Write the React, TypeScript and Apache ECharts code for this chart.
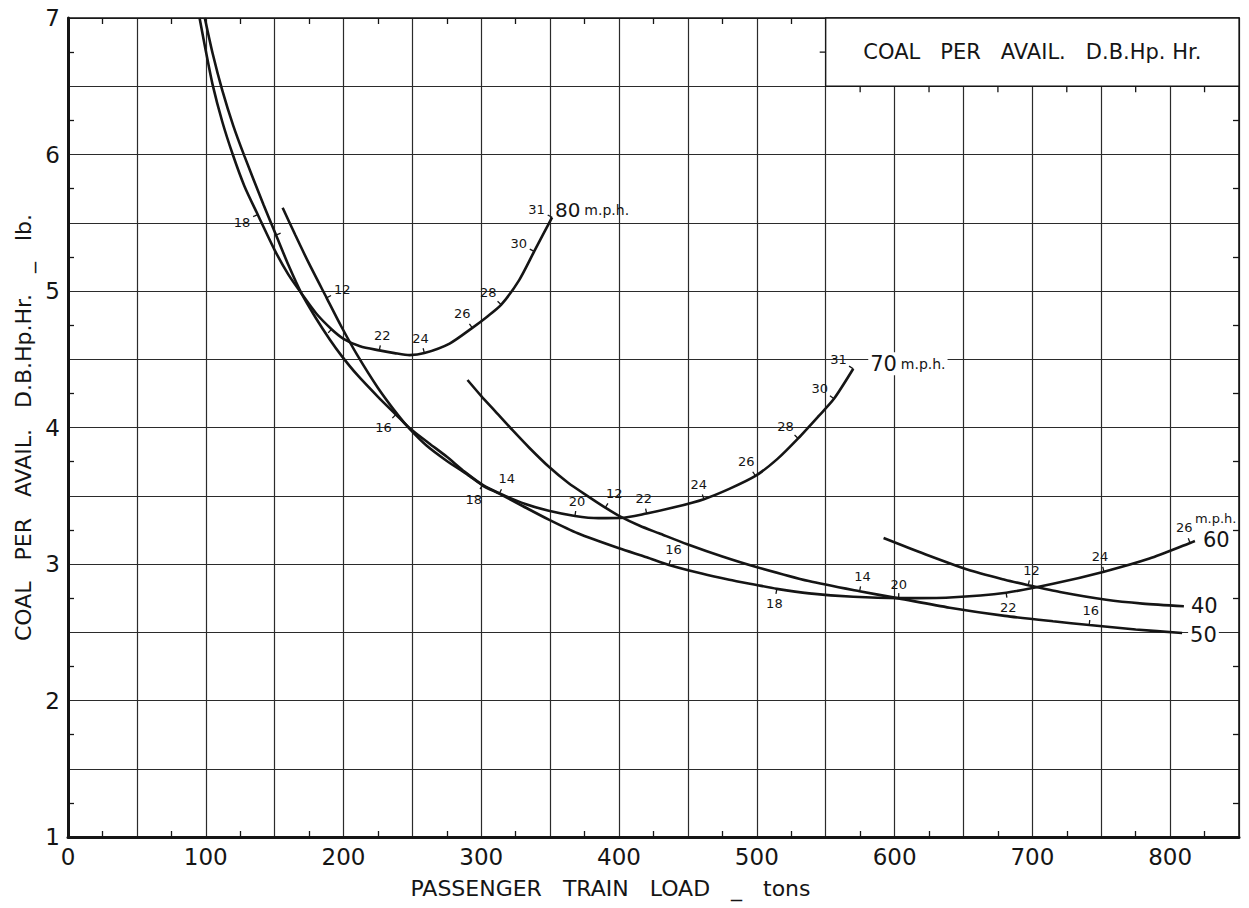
import React, { useEffect, useRef } from 'react';
import * as echarts from 'echarts';

const FONT = '"DejaVu Sans", "Liberation Sans", sans-serif';
const INK = '#151515';
const GRID = '#2b2b2b';

// Axis tick labels (grid lines run every 50 tons / 0.5 lb)
const xTickLabels = [0, 100, 200, 300, 400, 500, 600, 700, 800];
const yTickLabels = [1, 2, 3, 4, 5, 6, 7];

// Coal per available drawbar horsepower-hour (lb) against passenger train load (tons)
const speed80 = [
  [95.5, 7.0], [100, 6.76], [105, 6.51], [112, 6.24], [119.6, 6.0], [128, 5.77],
  [137.7, 5.56], [150, 5.3], [160, 5.12], [169.6, 4.98], [180.2, 4.835], [191.3, 4.72],
  [200, 4.65], [212, 4.595], [226, 4.565], [237, 4.545], [248, 4.53], [258.7, 4.545],
  [277, 4.615], [293.5, 4.73], [304, 4.81], [314.5, 4.9], [327.5, 5.08], [338.4, 5.29],
  [351.4, 5.54],
];
const speed70 = [
  [99.3, 7.0], [105, 6.74], [112, 6.47], [120, 6.21], [128, 5.99], [142, 5.63],
  [151, 5.41], [160, 5.19], [169.6, 4.98], [180, 4.8], [190, 4.645], [198.6, 4.525],
  [210, 4.385], [225, 4.225], [238, 4.095], [248, 3.995], [262, 3.885], [275, 3.785],
  [288, 3.675], [301, 3.58], [315, 3.51], [332, 3.44], [349, 3.39], [368, 3.352],
  [385, 3.336], [401, 3.337], [420, 3.37], [440, 3.415], [461.6, 3.475], [480, 3.55],
  [499, 3.645], [515, 3.77], [530, 3.92], [545, 4.085], [556, 4.21], [570, 4.43],
];
const speed60 = [
  [155.8, 5.61], [165, 5.41], [175, 5.2], [187.7, 4.95], [198.4, 4.74], [210, 4.53],
  [225, 4.29], [240, 4.085], [248, 3.99], [260, 3.87], [275, 3.755], [290, 3.655],
  [301, 3.575], [313, 3.515], [330, 3.425], [349, 3.325], [370, 3.225], [400, 3.115],
  [420, 3.05], [436.2, 2.993], [460, 2.93], [480, 2.885], [499, 2.848], [514.5, 2.818],
  [538, 2.785], [570, 2.76], [603, 2.75], [640, 2.755], [681, 2.79], [715, 2.855],
  [752, 2.944], [785, 3.04], [814.5, 3.154], [818, 3.168],
];
const speed50 = [
  [290, 4.348], [300, 4.23], [310, 4.12], [322.7, 3.98], [335, 3.85], [349.3, 3.71],
  [363, 3.595], [378.3, 3.49], [390, 3.413], [401.4, 3.345], [415, 3.28], [429, 3.225],
  [449.5, 3.145], [475, 3.055], [499, 2.98], [537.7, 2.875], [574.6, 2.8], [603, 2.748],
  [640, 2.68], [680, 2.62], [715, 2.58], [741.3, 2.553], [775, 2.52], [808.7, 2.495],
];
const speed40 = [
  [592, 3.19], [620, 3.08], [653.3, 2.958], [680, 2.885], [697, 2.845], [720, 2.795],
  [753.6, 2.738], [780, 2.71], [810, 2.69],
];

// Cut-off (%) marks along each speed curve: [load, cut-off]
const cutoff80 = [[137.7, 18], [191.3, 20], [226, 22], [258.7, 24], [293.5, 26], [314.5, 28], [338.4, 30], [351.4, 31]];
const cutoff70 = [[151, 14], [238, 16], [301, 18], [368, 20], [420, 22], [461.6, 24], [499, 26], [530, 28], [556, 30], [570, 31]];
const cutoff60 = [[187.7, 12], [313, 14], [436.2, 16], [514.5, 18], [603, 20], [681, 22], [752, 24], [814.5, 26]];
const cutoff50 = [[390, 12], [574.6, 14], [741.3, 16]];
const cutoff40 = [[697, 12]];

// Which side of the curve each cut-off mark sits on (+1 / -1 along the curve normal)
const side80 = [1, 1, -1, -1, -1, -1, -1, -1];
const side70 = [-1, 1, 1, -1, -1, -1, -1, -1, -1, -1];
const side60 = [-1, -1, -1, 1, -1, 1, -1, -1];
const side50 = [-1, -1, -1];
const side40 = [-1];

// Marks drawn without a figure
const unlabelled80 = [20];
const unlabelled70 = [14];

const NB = '\u00a0';
const gap = NB + NB + NB;
const titleText = ['COAL', 'PER', 'AVAIL.', 'D.B.Hp.' + NB + 'Hr.'].join(gap);
const xName = ['PASSENGER', 'TRAIN', 'LOAD', '_', 'tons'].join(gap);
const yName = ['COAL', 'PER', 'AVAIL.', 'D.B.Hp.Hr.', '_', 'lb.'].join(gap);
const titleBoxTicks = [575, 625, 675, 725, 775, 825];

function interp(curve: number[][], x: number): number {
  let i = 0;
  if (x >= curve[curve.length - 1][0]) i = curve.length - 2;
  else while (i < curve.length - 2 && curve[i + 1][0] < x) i++;
  const [x0, y0] = curve[i];
  const [x1, y1] = curve[i + 1];
  return y0 + ((y1 - y0) * (x - x0)) / (x1 - x0);
}

function cutoffSeries(curve: number[][], cutoffs: number[][], sides: number[], hidden: number[]) {
  const data = cutoffs.map(([load, c], i) => [load, interp(curve, load), c, sides[i], hidden.includes(c) ? 0 : 1]);
  return {
    type: 'custom',
    data,
    z: 5,
    silent: true,
    encode: { x: 0, y: 1 },
    renderItem: (_params: any, api: any) => {
      const load = api.value(0);
      const coal = api.value(1);
      const cut = api.value(2);
      const side = api.value(3);
      const show = api.value(4);
      const p = api.coord([load, coal]);
      const a = api.coord([load - 3, interp(curve, load - 3)]);
      const b = api.coord([load + 3, interp(curve, load + 3)]);
      let tx = b[0] - a[0];
      let ty = b[1] - a[1];
      const len = Math.hypot(tx, ty) || 1;
      tx /= len;
      ty /= len;
      const nx = -ty * side;
      const ny = tx * side;
      const L = 5;
      const children: any[] = [
        {
          type: 'line',
          shape: { x1: p[0], y1: p[1], x2: p[0] + nx * L, y2: p[1] + ny * L },
          style: { stroke: INK, lineWidth: 1.3 },
        },
      ];
      if (show) {
        const half = Math.abs(nx) * 8.5 + Math.abs(ny) * 6.5;
        const d = L + 2 + half;
        children.push({
          type: 'text',
          x: p[0] + nx * d,
          y: p[1] + ny * d,
          style: {
            text: String(cut),
            fill: INK,
            fontSize: 13,
            fontFamily: FONT,
            align: 'center',
            verticalAlign: 'middle',
          },
        });
      }
      return { type: 'group', children };
    },
  };
}

function curveSeries(name: string, data: number[][], endLabel: any, extra: any = {}) {
  return {
    type: 'line',
    name,
    data,
    showSymbol: false,
    symbol: 'none',
    smooth: 0.25,
    z: 4,
    silent: true,
    lineStyle: { color: INK, width: 2.6 },
    endLabel: { show: true, color: INK, fontFamily: FONT, ...endLabel },
    ...extra,
  };
}

export default function App() {
  const ref = useRef<HTMLDivElement>(null);

  useEffect(() => {
    if (!ref.current) return;
    const chart = echarts.init(ref.current, undefined, { renderer: 'svg' });

    const baseX = { type: 'value', min: 0, max: 850, interval: 50 };
    const baseY = { type: 'value', min: 1, max: 7, interval: 0.5 };
    const minorTick = { show: true, splitNumber: 2, length: 6, lineStyle: { color: INK, width: 1.3 } };

    chart.setOption({
      animation: false,
      backgroundColor: '#ffffff',
      textStyle: { fontFamily: FONT },
      grid: { left: 68, top: 18, right: 10, bottom: 71, containLabel: false },
      xAxis: [
        {
          ...baseX,
          position: 'bottom',
          axisLine: { show: true, onZero: false, lineStyle: { color: INK, width: 3 } },
          axisTick: { show: false, inside: true },
          minorTick,
          splitLine: { show: true, lineStyle: { color: GRID, width: 1.2 } },
          axisLabel: {
            formatter: (v: number) => (xTickLabels.includes(v) ? String(v) : ''),
            fontSize: 23,
            fontFamily: FONT,
            color: INK,
            margin: 8,
          },
          name: xName,
          nameLocation: 'middle',
          nameGap: 40,
          nameTextStyle: { fontSize: 22, fontFamily: FONT, color: INK, padding: [0, 86, 0, 0] },
        },
        {
          ...baseX,
          position: 'top',
          axisLine: { show: true, onZero: false, lineStyle: { color: INK, width: 1.6 } },
          axisTick: { show: false, inside: true },
          minorTick,
          splitLine: { show: false },
          axisLabel: { show: false },
        },
      ],
      yAxis: [
        {
          ...baseY,
          position: 'left',
          axisLine: { show: true, onZero: false, lineStyle: { color: INK, width: 3 } },
          axisTick: { show: false, inside: true },
          minorTick,
          splitLine: { show: true, lineStyle: { color: GRID, width: 1.2 } },
          axisLabel: {
            formatter: (v: number) => (yTickLabels.includes(v) ? String(v) : ''),
            fontSize: 23,
            fontFamily: FONT,
            color: INK,
            margin: 8,
          },
          name: yName,
          nameLocation: 'middle',
          nameGap: 34,
          nameTextStyle: { fontSize: 22, fontFamily: FONT, color: INK },
        },
        {
          ...baseY,
          position: 'right',
          axisLine: { show: true, onZero: false, lineStyle: { color: INK, width: 1.6 } },
          axisTick: { show: false, inside: true },
          minorTick,
          splitLine: { show: false },
          axisLabel: { show: false },
        },
      ],
      series: [
        curveSeries(
          '80 m.p.h.',
          speed80,
          {
            formatter: '{n|80} {u|m.p.h.}',
            distance: 3,
            offset: [0, -7],
            rich: { n: { fontSize: 20, fontFamily: FONT, color: INK }, u: { fontSize: 14, fontFamily: FONT, color: INK } },
          },
          {
            markArea: {
              silent: true,
              itemStyle: { color: '#ffffff', borderColor: INK, borderWidth: 1.3 },
              label: { show: true, position: 'inside', formatter: titleText, fontSize: 21, fontFamily: FONT, color: INK },
              data: [[{ xAxis: 550, yAxis: 6.5 }, { xAxis: 850, yAxis: 7 }]],
            },
          }
        ),
        curveSeries('70 m.p.h.', speed70, {
          formatter: '{n|70} {u|m.p.h.}',
          distance: 15,
          offset: [0, -5],
          backgroundColor: '#ffffff',
          padding: [1, 2],
          rich: { n: { fontSize: 21, fontFamily: FONT, color: INK }, u: { fontSize: 14, fontFamily: FONT, color: INK } },
        }),
        curveSeries('60 m.p.h.', speed60, {
          formatter: '{u|m.p.h.}\n{n|60}',
          distance: 0,
          offset: [0, -10],
          rich: {
            n: { fontSize: 21, fontFamily: FONT, color: INK, padding: [0, 0, 0, 8] },
            u: { fontSize: 13, fontFamily: FONT, color: INK, padding: [0, 0, 4, 0] },
          },
        }),
        curveSeries('50 m.p.h.', speed50, {
          formatter: '{n|50}',
          distance: 6,
          offset: [0, 2],
          backgroundColor: '#ffffff',
          padding: [0, 2],
          rich: { n: { fontSize: 21, fontFamily: FONT, color: INK } },
        }),
        curveSeries('40 m.p.h.', speed40, {
          formatter: '{n|40}',
          distance: 7,
          rich: { n: { fontSize: 21, fontFamily: FONT, color: INK } },
        }),
        cutoffSeries(speed80, cutoff80, side80, unlabelled80),
        cutoffSeries(speed70, cutoff70, side70, unlabelled70),
        cutoffSeries(speed60, cutoff60, side60, []),
        cutoffSeries(speed50, cutoff50, side50, []),
        cutoffSeries(speed40, cutoff40, side40, []),
        {
          // small frame ticks along the edges of the title box
          type: 'custom',
          z: 6,
          silent: true,
          encode: { x: 0, y: 1 },
          data: [...titleBoxTicks.map((x) => [x, 6.5, 0]), [550, 6.75, 1]],
          renderItem: (_p: any, api: any) => {
            const pt = api.coord([api.value(0), api.value(1)]);
            const horizontal = api.value(2) === 1;
            return {
              type: 'line',
              shape: horizontal
                ? { x1: pt[0], y1: pt[1], x2: pt[0] - 6, y2: pt[1] }
                : { x1: pt[0], y1: pt[1], x2: pt[0], y2: pt[1] + 6 },
              style: { stroke: INK, lineWidth: 1.3 },
            };
          },
        },
      ],
    });

    return () => chart.dispose();
  }, []);

  return (
    <div
      ref={ref}
      style={{ position: 'fixed', left: 0, top: 0, width: 1249, height: 908, background: '#fff' }}
    />
  );
}
